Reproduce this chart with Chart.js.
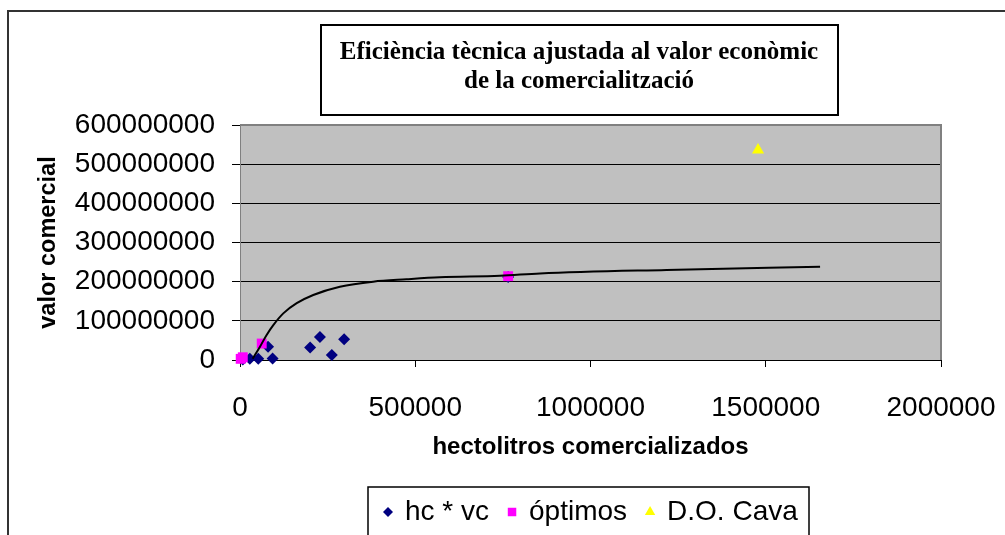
<!DOCTYPE html>
<html>
<head>
<meta charset="utf-8">
<script src="https://cdn.jsdelivr.net/npm/chart.js@4"></script>
<style>
  html, body { margin: 0; padding: 0; background: #fff; }
</style>
</head>
<body>
<canvas id="chart" width="1005" height="535"></canvas>
<script>
// chart texts
const titleLines = ['Eficiència tècnica ajustada al valor econòmic', 'de la comercialització'];
const xTitle = 'hectolitros comercializados';
const yTitle = 'valor comercial';
const legendLabels = ['hc * vc', 'óptimos', 'D.O. Cava'];

// axis ticks
const xTicks = [0, 500000, 1000000, 1500000, 2000000];
const yTicks = [0, 100000000, 200000000, 300000000, 400000000, 500000000, 600000000];

// hc * vc (blue diamonds)
const hcX = [8000, 28000, 52000, 80000, 93000, 200000, 228000, 262000, 297000, 765000];
const hcY = [1000000, 3000000, 3000000, 34000000, 4000000, 32000000, 59000000, 13000000, 53000000, 212000000];

// óptimos (magenta squares)
const optX = [2000, 8000, 62000, 765000];
const optY = [3000000, 7000000, 42000000, 214000000];

// D.O. Cava (yellow triangle)
const cavaX = [1478000];
const cavaY = [536000000];

// trend line
const trendX = [36000, 57000, 76000, 95000, 123500, 161800, 209000, 285000, 380000, 475000, 570000, 742000, 856000, 1217000, 1655000];
const trendY = [3000000, 34000000, 64000000, 89000000, 119000000, 145000000, 166000000, 187000000, 200000000, 206000000, 211000000, 215000000, 221000000, 230000000, 238000000];

const toPoints = (xs, ys) => xs.map((x, i) => ({x: x, y: ys[i]}));

const legendStyles = [
    {style: 'rectRot', color: '#000080', r: 5},
    {style: 'rect', color: '#FF00FF', r: 6},
    {style: 'triangle', color: '#FFFF00', r: 6}
];

// background, plot area, frame, title box and legend box
const framePlugin = {
    id: 'frame',
    beforeDraw(chart) {
        const ctx = chart.ctx;
        const a = chart.chartArea;
        ctx.save();
        ctx.fillStyle = '#fff';
        ctx.fillRect(0, 0, chart.width, chart.height);
        ctx.strokeStyle = '#333';
        ctx.lineWidth = 2;
        ctx.beginPath();
        ctx.moveTo(8, chart.height + 5);
        ctx.lineTo(8, 11);
        ctx.lineTo(chart.width + 5, 11);
        ctx.stroke();
        ctx.fillStyle = '#C0C0C0';
        ctx.fillRect(a.left, a.top, a.right - a.left, a.bottom - a.top);
        ctx.restore();
    },
    beforeDatasetsDraw(chart) {
        const ctx = chart.ctx;
        const a = chart.chartArea;
        ctx.save();
        ctx.strokeStyle = '#808080';
        ctx.lineWidth = 2;
        ctx.beginPath();
        ctx.moveTo(a.left, a.top);
        ctx.lineTo(a.right, a.top);
        ctx.lineTo(a.right, a.bottom);
        ctx.stroke();
        ctx.restore();
    },
    afterDraw(chart) {
        const ctx = chart.ctx;
        ctx.save();
        // title box
        ctx.fillStyle = '#fff';
        ctx.fillRect(321, 25, 517, 90);
        ctx.strokeStyle = '#000';
        ctx.lineWidth = 2;
        ctx.strokeRect(321, 25, 517, 90);
        ctx.fillStyle = '#000';
        ctx.font = 'bold 25px "Liberation Serif"';
        ctx.textAlign = 'center';
        ctx.textBaseline = 'middle';
        ctx.fillText(titleLines[0], 579, 53);
        ctx.fillText(titleLines[1], 579, 82);

        // legend box
        ctx.font = '28px "Liberation Sans"';
        ctx.textAlign = 'left';
        const cy = 512;
        let x = 388;
        ctx.fillStyle = '#fff';
        ctx.fillRect(368, 487, 441, 60);
        ctx.strokeStyle = '#000';
        ctx.lineWidth = 1.5;
        ctx.strokeRect(368, 487, 441, 60);
        legendLabels.forEach((label, i) => {
            const s = legendStyles[i];
            ctx.fillStyle = s.color;
            ctx.strokeStyle = s.color;
            Chart.helpers.drawPoint(ctx, {pointStyle: s.style, radius: s.r, borderWidth: 0}, x, cy);
            ctx.fillStyle = '#000';
            ctx.fillText(label, x + 17, cy);
            x += 17 + ctx.measureText(label).width + 23;
        });
        ctx.restore();
    }
};

const ctx = document.getElementById('chart');
const myChart = new Chart(ctx, {
    type: 'scatter',
    data: {
        datasets: [
            {
                label: 'trend',
                data: toPoints(trendX, trendY),
                showLine: true,
                borderColor: '#000',
                borderWidth: 2,
                pointRadius: 0,
                cubicInterpolationMode: 'monotone',
                fill: false
            },
            {
                label: legendLabels[2],
                data: toPoints(cavaX, cavaY),
                pointStyle: 'triangle',
                pointRadius: 7,
                backgroundColor: '#FFFF00',
                borderColor: '#FFFF00',
                borderWidth: 0,
                clip: false
            },
            {
                label: legendLabels[1],
                data: toPoints(optX, optY),
                pointStyle: 'rect',
                pointRadius: 7,
                backgroundColor: '#FF00FF',
                borderColor: '#FF00FF',
                borderWidth: 0,
                clip: false
            },
            {
                label: legendLabels[0],
                data: toPoints(hcX, hcY),
                pointStyle: 'rectRot',
                pointRadius: 6,
                backgroundColor: '#000080',
                borderColor: '#000080',
                borderWidth: 0,
                clip: false
            }
        ]
    },
    options: {
        responsive: false,
        animation: false,
        events: [],
        layout: {
            padding: {top: 125, right: 64, left: 0, bottom: 0}
        },
        scales: {
            x: {
                type: 'linear',
                min: xTicks[0],
                max: xTicks[xTicks.length - 1],
                afterFit: scale => {
                    scale.height = 175;
                    scale.paddingLeft = 0;
                    scale.paddingRight = 0;
                },
                ticks: {
                    stepSize: xTicks[1] - xTicks[0],
                    color: '#000',
                    padding: 24,
                    maxRotation: 0,
                    font: {family: 'Liberation Sans', size: 28},
                    callback: v => String(v)
                },
                grid: {
                    drawOnChartArea: false,
                    drawTicks: true,
                    tickLength: 7,
                    color: '#000'
                },
                border: {display: true, color: '#000'},
                title: {
                    display: true,
                    text: xTitle,
                    color: '#000',
                    font: {family: 'Liberation Sans', size: 24, weight: 'bold'},
                    padding: {top: 0, bottom: 73}
                }
            },
            y: {
                type: 'linear',
                min: yTicks[0],
                max: yTicks[yTicks.length - 1],
                afterFit: scale => { scale.width = 240; },
                ticks: {
                    stepSize: yTicks[1] - yTicks[0],
                    color: '#000',
                    padding: 17,
                    font: {family: 'Liberation Sans', size: 28},
                    callback: v => String(v)
                },
                grid: {
                    drawTicks: true,
                    tickLength: 8,
                    color: '#000',
                    lineWidth: 1
                },
                border: {display: true, color: '#808080'},
                title: {
                    display: true,
                    text: yTitle,
                    color: '#000',
                    font: {family: 'Liberation Sans', size: 23.5, weight: 'bold'},
                    padding: {top: 34, bottom: 0}
                }
            }
        },
        plugins: {
            legend: {display: false},
            title: {display: false},
            tooltip: {enabled: false}
        }
    },
    plugins: [framePlugin]
});
</script>
</body>
</html>
